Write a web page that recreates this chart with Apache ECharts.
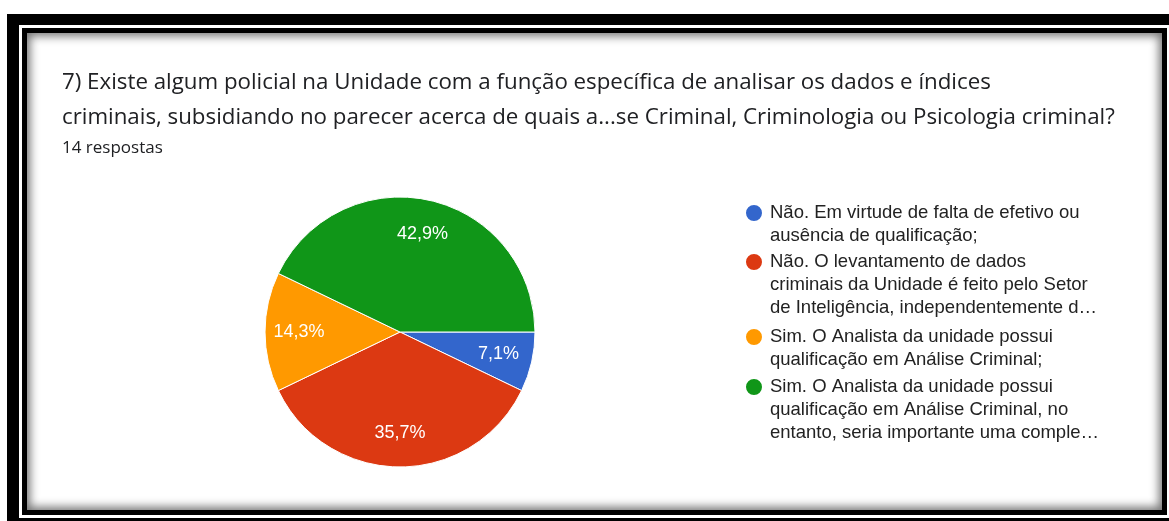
<!DOCTYPE html>
<html>
<head>
<meta charset="utf-8">
<script src="https://cdn.jsdelivr.net/npm/echarts@6/dist/echarts.min.js"></script>
<style>
    html, body { margin: 0; padding: 0; background: #fff; overflow: hidden; }
    .frame-outer { position: absolute; left: 7px; top: 14px; width: 1200px; height: 600px; background: #000; }
    .frame-gap { position: absolute; left: 19px; top: 25px; width: 1180px; height: 493px; background: #fff; }
    .frame-inner { position: absolute; left: 22px; top: 28px; width: 1145px; height: 487px; background: #000; }
    .card { position: absolute; left: 27px; top: 33px; width: 1135px; height: 477px; background: #fff;
            box-shadow: inset 0 0 10px 3px rgba(0, 0, 0, 0.55); }
    #chart { position: absolute; left: 0; top: 0; width: 1169px; height: 521px; }
</style>
</head>
<body>
<div class="frame-outer"></div>
<div class="frame-gap"></div>
<div class="frame-inner"></div>
<div class="card"></div>
<div id="chart"></div>
<script>
    // respostas (14 no total)
    const categories = [
        'Não. Em virtude de falta de efetivo ou ausência de qualificação;',
        'Não. O levantamento de dados criminais da Unidade é feito pelo Setor de Inteligência, independentemente d…',
        'Sim. O Analista da unidade possui qualificação em Análise Criminal;',
        'Sim. O Analista da unidade possui qualificação em Análise Criminal, no entanto, seria importante uma comple…'
    ];
    const legendLines = [
        ['Não. Em virtude de falta de efetivo ou', 'ausência de qualificação;'],
        ['Não. O levantamento de dados', 'criminais da Unidade é feito pelo Setor', 'de Inteligência, independentemente d…'],
        ['Sim. O Analista da unidade possui', 'qualificação em Análise Criminal;'],
        ['Sim. O Analista da unidade possui', 'qualificação em Análise Criminal, no', 'entanto, seria importante uma comple…']
    ];
    const counts = [1, 5, 2, 6];
    const colors = ['#3366cc', '#dc3912', '#ff9900', '#109618'];

    const titleText = '7) Existe algum policial na Unidade com a função específica de analisar os dados e índices\n' +
        'criminais, subsidiando no parecer acerca de quais a...se Criminal, Criminologia ou Psicologia criminal?';
    const subText = '14 respostas';

    const lineH = 23;
    const firstLineTop = [201.5, 250.5, 325.5, 375.5];

    const total = counts.reduce((a, b) => a + b, 0);
    const pieData = categories.map((name, i) => ({ name: name, value: counts[i] }));

    // one legend per item; blank lines in front keep the dot on the first text line
    const legends = categories.map((name, i) => {
        const n = legendLines[i].length;
        const pad = new Array(n - 1).fill(' ');
        return {
            orient: 'vertical',
            left: 744,
            top: firstLineTop[i] - lineH * (n - 1),
            padding: 0,
            icon: 'circle',
            itemWidth: 22,
            itemHeight: 18,
            selectedMode: false,
            data: [name],
            formatter: () => pad.concat(legendLines[i]).join('\n'),
            textStyle: {
                fontFamily: 'Liberation Sans',
                fontSize: 18.5,
                lineHeight: lineH,
                color: '#222'
            }
        };
    });

    const myChart = echarts.init(document.getElementById('chart'));
    const option = {
        color: colors,
        animation: false,
        title: {
            text: titleText,
            subtext: subText,
            left: 57,
            top: 60,
            itemGap: 3,
            textStyle: {
                fontFamily: 'Open Sans',
                fontWeight: 'normal',
                fontSize: 22.3,
                lineHeight: 35,
                color: '#202124'
            },
            subtextStyle: {
                fontFamily: 'Open Sans',
                fontSize: 17,
                lineHeight: 20,
                color: '#202124'
            }
        },
        legend: legends,
        series: [
            {
                type: 'pie',
                center: [400, 332],
                radius: 135,
                startAngle: 0,
                clockwise: true,
                silent: true,
                itemStyle: { borderColor: '#fff', borderWidth: 1 },
                label: { show: false },
                labelLine: { show: false },
                data: pieData
            },
            {
                // transparent ring only used to place the percentage labels
                type: 'pie',
                center: [400, 332],
                radius: [61, 135],
                startAngle: 0,
                clockwise: true,
                silent: true,
                itemStyle: { color: 'transparent', borderWidth: 0 },
                label: {
                    show: true,
                    position: 'inside',
                    fontFamily: 'Liberation Sans',
                    fontSize: 18,
                    color: '#fff',
                    formatter: p => (p.value / total * 100).toFixed(1).replace('.', ',') + '%'
                },
                labelLine: { show: false },
                data: pieData
            }
        ]
    };
    myChart.setOption(option);
</script>
</body>
</html>
